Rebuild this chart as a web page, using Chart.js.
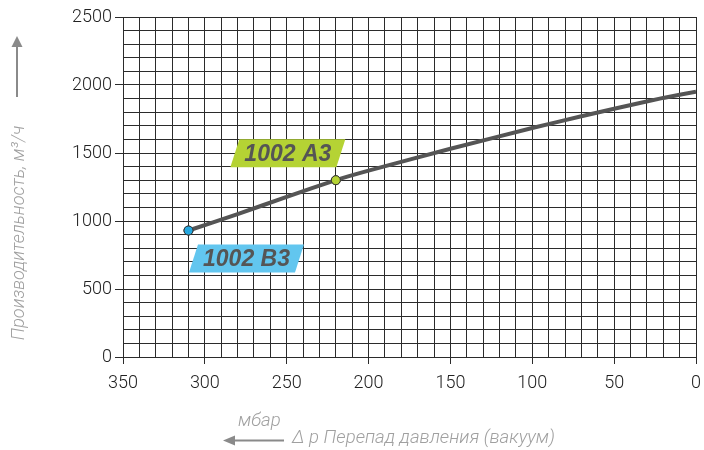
<!DOCTYPE html>
<html>
<head>
<meta charset="utf-8">
<script src="https://cdn.jsdelivr.net/npm/chart.js@4.4.1/dist/chart.umd.min.js"></script>
<style>
  html, body { margin: 0; padding: 0; background: #fff; overflow: hidden; }
  #wrap { width: 704px; height: 450px; position: relative; }
</style>
</head>
<body>
<div id="wrap"><canvas id="c"></canvas></div>
<script>
// ---- data ----
const pressure = [310, 280, 250, 220, 200, 150, 100, 70, 50, 20, 0];       // mbar
const flow     = [930, 1050, 1178, 1300, 1370, 1531, 1684, 1770, 1825, 1905, 1950]; // m3/h
const markerPressure = [310, 220];
const markerFlow     = [930, 1300];
const markerNames    = ['1002 B3', '1002 A3'];
const markerColors   = ['#25a8e0', '#b5d334'];
const boxColors      = ['#62c6ef', '#b5d334'];
const xTickStep = 50, yTickStep = 500;
const yTitle = 'Производительность, м³/ч';
const xUnit = 'мбар';
const xTitle = 'Δ p Перепад давления (вакуум)';

const GRID = '#2b2b2b';
const TICKFONT = { family: 'Roboto, "Liberation Sans", sans-serif', size: 18, weight: '300' };

const labelPlugin = {
  id: 'extras',
  afterDatasetsDraw(chart) {
    const ctx = chart.ctx;
    const xs = chart.scales.x, ys = chart.scales.y;
    const offsets = [[58, 28], [-48, -27]];
    markerNames.forEach((name, i) => {
      const px = xs.getPixelForValue(markerPressure[i]);
      const py = ys.getPixelForValue(markerFlow[i]);
      const cx = px + offsets[i][0], cy = py + offsets[i][1];
      const w = 106, h = 28, sk = 9;
      ctx.save();
      ctx.fillStyle = boxColors[i];
      ctx.beginPath();
      ctx.moveTo(cx - w / 2 - sk / 2, cy + h / 2);
      ctx.lineTo(cx - w / 2 + sk / 2, cy - h / 2);
      ctx.lineTo(cx + w / 2 + sk / 2, cy - h / 2);
      ctx.lineTo(cx + w / 2 - sk / 2, cy + h / 2);
      ctx.closePath();
      ctx.fill();
      ctx.fillStyle = '#555555';
      ctx.font = 'italic bold 23px "Liberation Sans", Arial, sans-serif';
      ctx.textAlign = 'center';
      ctx.textBaseline = 'middle';
      ctx.fillText(name, cx, cy + 1);
      ctx.restore();
    });
    const meta = chart.getDatasetMeta(1);
    meta.data.forEach(el => el.draw(ctx));

    ctx.save();
    ctx.fillStyle = '#a0a0a0';
    ctx.strokeStyle = '#8a8a8a';
    ctx.font = 'italic 300 18px Roboto, "Liberation Sans", sans-serif';
    ctx.textBaseline = 'middle';
    ctx.save();
    ctx.translate(19, 233);
    ctx.rotate(-Math.PI / 2);
    ctx.textAlign = 'center';
    ctx.fillText(yTitle, 0, 0);
    ctx.restore();
    ctx.lineWidth = 2;
    ctx.beginPath();
    ctx.moveTo(17, 97); ctx.lineTo(17, 44);
    ctx.stroke();
    ctx.fillStyle = '#8a8a8a';
    ctx.beginPath();
    ctx.moveTo(17, 36); ctx.lineTo(11.5, 47); ctx.lineTo(22.5, 47); ctx.closePath();
    ctx.fill();
    ctx.beginPath();
    ctx.moveTo(284, 440.5); ctx.lineTo(234, 440.5);
    ctx.stroke();
    ctx.beginPath();
    ctx.moveTo(223, 440.5); ctx.lineTo(235, 435.5); ctx.lineTo(235, 445.5); ctx.closePath();
    ctx.fill();
    ctx.fillStyle = '#a0a0a0';
    ctx.font = 'italic 300 18.6px Roboto, "Liberation Sans", sans-serif';
    ctx.textAlign = 'left';
    ctx.fillText(xUnit, 238, 421);
    ctx.fillText(xTitle, 292, 438);
    ctx.restore();
  }
};

new Chart(document.getElementById('c'), {
  type: 'scatter',
  data: {
    datasets: [
      {
        data: pressure.map((p, i) => ({ x: p, y: flow[i] })),
        showLine: true,
        borderColor: '#555555',
        borderWidth: 4,
        pointRadius: 0,
        tension: 0.15,
        borderCapStyle: 'butt'
      },
      {
        data: markerPressure.map((p, i) => ({ x: p, y: markerFlow[i] })),
        showLine: false,
        pointRadius: 4.5,
        pointBackgroundColor: markerColors,
        pointBorderColor: '#333333',
        pointBorderWidth: 1
      }
    ]
  },
  options: {
    responsive: true,
    maintainAspectRatio: false,
    animation: false,
    devicePixelRatio: 1,
    layout: { padding: { top: 17, right: 8, left: 0, bottom: 0 } },
    plugins: { legend: { display: false }, tooltip: { enabled: false } },
    scales: {
      x: {
        type: 'linear',
        reverse: true,
        min: 0, max: 350,
        afterFit(s) { s.height = 93; s.paddingLeft = 0; s.paddingRight = 0; },
        ticks: {
          stepSize: 10,
          autoSkip: false,
          maxRotation: 0,
          padding: 9,
          color: '#222',
          font: TICKFONT,
          callback: v => (v % xTickStep === 0 ? String(v) : '')
        },
        grid: {
          color: GRID,
          lineWidth: 1,
          tickLength: 7,
          tickColor: c => (c.tick && c.tick.value % xTickStep === 0 ? GRID : 'rgba(0,0,0,0)')
        },
        border: { color: GRID, width: 1 }
      },
      y: {
        type: 'linear',
        min: 0, max: 2500,
        afterFit(s) { s.width = 123; s.paddingTop = 0; s.paddingBottom = 0; },
        ticks: {
          stepSize: 100,
          autoSkip: false,
          padding: 3,
          color: '#222',
          font: TICKFONT,
          callback: v => (v % yTickStep === 0 ? String(v) : '')
        },
        grid: {
          color: GRID,
          lineWidth: 1,
          tickLength: 8,
          tickColor: c => (c.tick && c.tick.value % yTickStep === 0 ? GRID : 'rgba(0,0,0,0)')
        },
        border: { color: GRID, width: 1 }
      }
    }
  },
  plugins: [labelPlugin]
});
</script>
</body>
</html>
